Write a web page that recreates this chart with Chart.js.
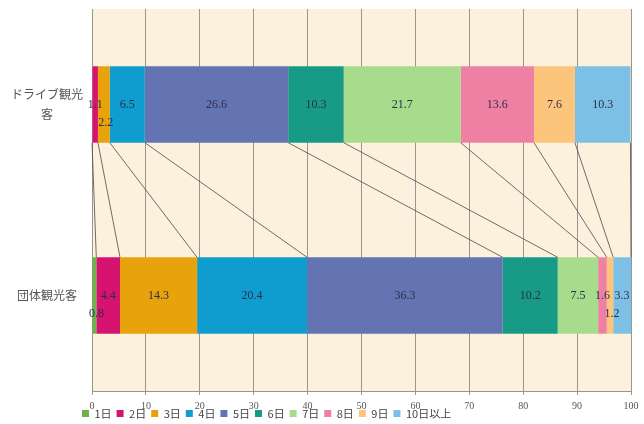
<!DOCTYPE html>
<html>
<head>
<meta charset="utf-8">
<script src="https://cdn.jsdelivr.net/npm/chart.js@4/dist/chart.umd.min.js"></script>
<style>
  html, body { margin: 0; padding: 0; background: #ffffff; }
  #wrap { width: 644px; height: 424px; position: relative; }
</style>
</head>
<body>
<div id="wrap"><canvas id="c" width="644" height="424"></canvas></div>
<script>
// ---- data ----
const categories = ['ドライブ観光客', '団体観光客'];
const categoryTickLabels = [['ドライブ観光', '客'], '団体観光客'];
const seriesNames = ['1日', '2日', '3日', '4日', '5日', '6日', '7日', '8日', '9日', '10日以上'];
const driveValues = [0, 1.1, 2.2, 6.5, 26.6, 10.3, 21.7, 13.6, 7.6, 10.3];
const groupValues = [0.8, 4.4, 14.3, 20.4, 36.3, 10.2, 7.5, 1.6, 1.2, 3.3];
const xTicks = [0, 10, 20, 30, 40, 50, 60, 70, 80, 90, 100];
const seriesColors = ['#6db349', '#d6136f', '#e8a20c', '#0f9dcf', '#6474b3', '#179b87', '#a6dc8c', '#ee80a4', '#fdc57c', '#7cc0e6'];

const datasets = seriesNames.map((name, i) => ({
  label: name,
  data: [driveValues[i], groupValues[i]],
  backgroundColor: seriesColors[i],
  borderWidth: 0,
  barPercentage: 0.4,
  categoryPercentage: 1.0
}));

// plot-area background
const bgPlugin = {
  id: 'plotBg',
  beforeDraw(chart) {
    const { ctx, chartArea: a } = chart;
    ctx.save();
    ctx.fillStyle = '#fcf1dd';
    ctx.fillRect(a.left, a.top, a.right - a.left, a.bottom - a.top);
    ctx.restore();
  }
};

// place legend like the reference (overlapping the tick label band)
const legendPos = {
  id: 'legendPos',
  afterLayout(chart) {
    const lg = chart.legend;
    if (lg) {
      lg.left = 77;
      lg.right = 644;
      lg.top = 403;
      lg.bottom = 424;
    }
  }
};

// series lines + data labels
const overlay = {
  id: 'overlay',
  afterDatasetsDraw(chart) {
    const { ctx } = chart;
    ctx.save();
    ctx.strokeStyle = '#4a4a4a';
    ctx.lineWidth = 0.8;
    chart.data.datasets.forEach((ds, i) => {
      const meta = chart.getDatasetMeta(i);
      const p0 = meta.data[0].getProps(['x', 'y', 'height'], true);
      const p1 = meta.data[1].getProps(['x', 'y', 'height'], true);
      ctx.beginPath();
      ctx.moveTo(p0.x, p0.y + p0.height / 2);
      ctx.lineTo(p1.x, p1.y - p1.height / 2);
      ctx.stroke();
    });
    ctx.font = '12px "Liberation Serif", "DejaVu Serif", serif';
    ctx.fillStyle = '#2d2d48';
    ctx.textAlign = 'center';
    ctx.textBaseline = 'middle';
    chart.data.datasets.forEach((ds, i) => {
      const meta = chart.getDatasetMeta(i);
      ds.data.forEach((v, j) => {
        if (!v) return;
        const p = meta.data[j].getProps(['x', 'y', 'base'], true);
        const prev = i > 0 ? chart.data.datasets[i - 1].data[j] : 0;
        let dy = 0;
        if (v < 1 || (v < 3 && prev > 0 && prev < 3)) dy = 18;
        ctx.fillText(v.toFixed(1), (p.x + p.base) / 2 + (dy ? 2 : 0), p.y + dy);
      });
    });
    ctx.restore();
  }
};

new Chart(document.getElementById('c'), {
  type: 'bar',
  data: { labels: categories, datasets },
  options: {
    indexAxis: 'y',
    responsive: false,
    animation: false,
    layout: { padding: { top: 9, right: 13, left: 0, bottom: 9 } },
    plugins: {
      tooltip: { enabled: false },
      legend: {
        position: 'bottom',
        align: 'start',
        maxHeight: 2,
        labels: {
          boxWidth: 7,
          boxHeight: 7,
          padding: 5,
          color: '#444',
          font: { family: '"Noto Sans CJK JP", sans-serif', size: 11 }
        }
      }
    },
    scales: {
      x: {
        stacked: true,
        min: 0,
        max: 100,
        afterBuildTicks(scale) { scale.ticks = xTicks.map(v => ({ value: v })); },
        afterFit(scale) { scale.height = 22; scale.paddingLeft = 0; scale.paddingRight = 0; },
        ticks: {
          padding: 5,
          color: '#555',
          font: { family: '"Liberation Serif", serif', size: 10 }
        },
        grid: { color: '#9b958d', lineWidth: 1, tickLength: 4 },
        border: { color: '#9b958d' }
      },
      y: {
        stacked: true,
        afterFit(scale) { scale.width = 92; scale.paddingTop = 0; scale.paddingBottom = 0; },
        ticks: {
          padding: 9,
          crossAlign: 'center',
          color: '#555',
          font: { family: '"Noto Sans CJK JP", sans-serif', size: 12, lineHeight: 1.65 },
          callback: (val, idx) => categoryTickLabels[idx]
        },
        grid: { display: false, drawTicks: false },
        border: { display: true, color: '#9b958d' }
      }
    }
  },
  plugins: [bgPlugin, legendPos, overlay]
});
</script>
</body>
</html>
